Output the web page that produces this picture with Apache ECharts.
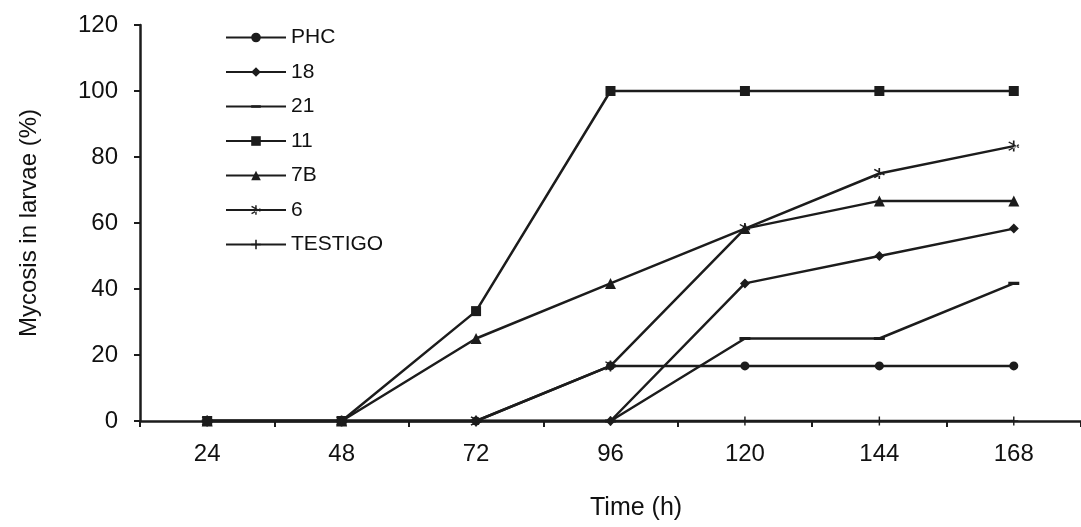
<!DOCTYPE html>
<html>
<head>
<meta charset="utf-8">
<script src="https://cdn.jsdelivr.net/npm/echarts@6/dist/echarts.min.js"></script>
<style>
html,body{margin:0;padding:0;background:#fff;}
#chart{width:1081px;height:527px;}
</style>
</head>
<body>
<div id="chart"></div>
<script>
var categories = ['24', '48', '72', '96', '120', '144', '168'];
var yTicks = [0, 20, 40, 60, 80, 100, 120];
var seriesNames = ['PHC', '18', '21', '11', '7B', '6', 'TESTIGO'];
var phc     = [0, 0, 0, 16.7, 16.7, 16.7, 16.7];
var s18     = [0, 0, 0, 0, 41.7, 50, 58.3];
var s21     = [0, 0, 0, 0, 25, 25, 41.7];
var s11     = [0, 0, 33.3, 100, 100, 100, 100];
var s7B     = [0, 0, 25, 41.7, 58.3, 66.7, 66.7];
var s6      = [0, 0, 0, 16.7, 58.3, 75, 83.3];
var testigo = [0, 0, 0, 0, 0, 0, 0];
var xTitle = 'Time (h)';
var yTitle = 'Mycosis in larvae (%)';

var values = [phc, s18, s21, s11, s7B, s6, testigo];
var symbols = [
  'circle',
  'diamond',
  'path://M-5,-5h0.01v0.01h-0.01z M-5,4.99h0.01v0.01h-0.01z M-5,-1.4h10v2.8h-10z',
  'rect',
  'triangle',
  'path://M-0.7,-5h1.4v10h-1.4z M-4.6,-3.2l0.7,-1.1l8.6,5l-0.7,1.1z M-4.6,3.2l0.7,1.1l8.6,-5l-0.7,-1.1z',
  'path://M-0.8,-5h1.6v10h-1.6z M-5,-0.8h10v1.6h-10z'
];
var sizes = [9, 10, 11, 10, 11, 11, 9];

var font = '"Liberation Sans", Arial, sans-serif';
var ink = '#1c1c1c';
var chart = echarts.init(document.getElementById('chart'));
var series = seriesNames.map(function (n, i) {
  return {
    name: n,
    type: 'line',
    data: values[i],
    symbol: symbols[i],
    symbolSize: sizes[i],
    showSymbol: true,
    lineStyle: {color: ink, width: 2.5},
    itemStyle: {color: ink},
    animation: false
  };
});

chart.setOption({
  backgroundColor: '#ffffff',
  animation: false,
  grid: {left: 140, right: -10, top: 25, bottom: 106, containLabel: false},
  legend: {
    orient: 'vertical',
    left: 225,
    top: 27,
    padding: 0,
    itemWidth: 60,
    itemHeight: 12,
    itemGap: 13.5,
    textStyle: {fontFamily: font, fontSize: 21, color: '#111', padding: [0, 0, 0, 0]},
    data: seriesNames
  },
  xAxis: {
    type: 'category',
    data: categories,
    boundaryGap: true,
    axisLine: {lineStyle: {color: ink, width: 2.5}},
    axisTick: {show: true, length: 6, lineStyle: {color: ink, width: 2}},
    axisLabel: {fontFamily: font, fontSize: 24, color: '#111', margin: 21},
    splitLine: {show: false}
  },
  yAxis: {
    type: 'value',
    min: 0,
    max: 120,
    interval: 20,
    name: yTitle,
    nameLocation: 'middle',
    nameGap: 99,
    nameTextStyle: {fontFamily: font, fontSize: 24, color: '#111'},
    axisLine: {show: true, lineStyle: {color: ink, width: 2.5}},
    axisTick: {show: true, length: 6, lineStyle: {color: ink, width: 2}},
    axisLabel: {fontFamily: font, fontSize: 24, color: '#111', margin: 22,
      formatter: function (v) { return yTicks.indexOf(v) >= 0 ? String(v) : ''; }},
    splitLine: {show: false}
  },
  graphic: [{
    type: 'text',
    left: 590,
    top: 496,
    style: {text: xTitle, font: '25px ' + font, fill: '#111', textAlign: 'center'}
  }],
  series: series
});
</script>
</body>
</html>
